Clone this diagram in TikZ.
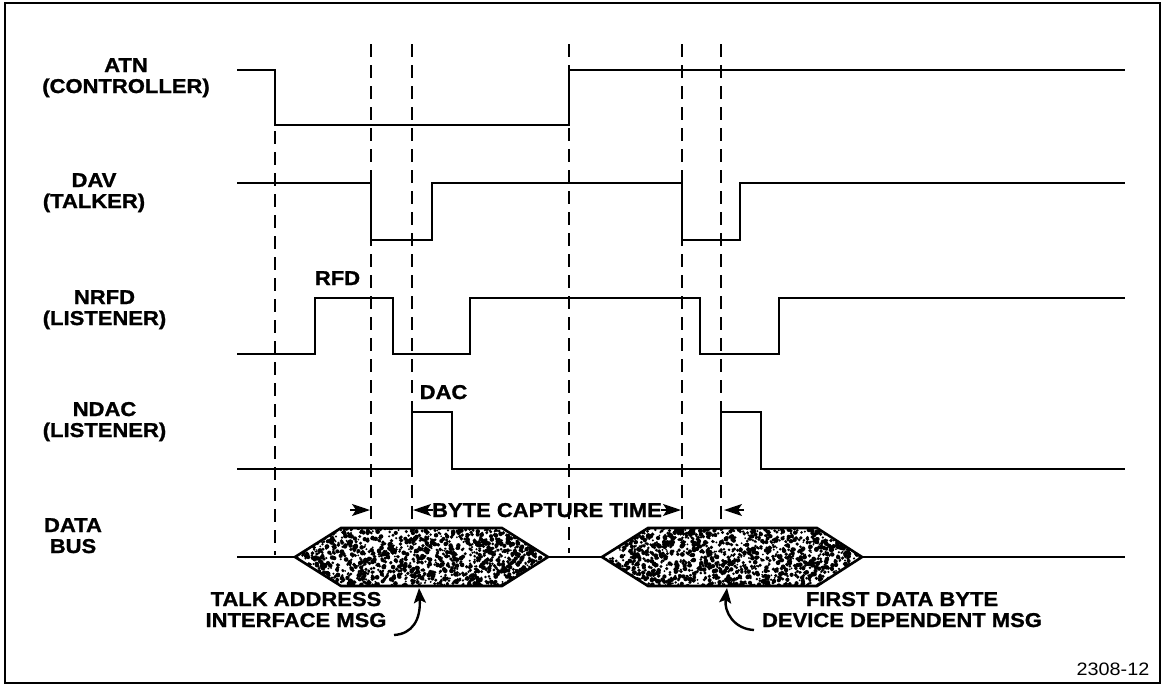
\documentclass[tikz,border=0pt]{standalone}
\usepackage{fontspec}
\setmainfont{Liberation Sans}[FakeStretch=1.1, BoldFeatures={FakeBold=1.2}]
\usetikzlibrary{arrows.meta}
\begin{document}
\begin{tikzpicture}[x=1pt,y=-1pt,
  sig/.style={line width=2.2pt, line join=miter},
  guide/.style={line width=1.9pt, dash pattern=on 13pt off 8pt},
  lbl/.style={font=\fontsize{20}{21}\selectfont\bfseries, inner sep=0pt, anchor=base, align=center},
  dimarrow/.style={line width=1.5pt, -{Stealth[length=18pt,width=12pt,inset=4pt]}},
  callout/.style={line width=2.4pt, -{Stealth[length=15pt,width=12pt,inset=3pt]}},
  busedge/.style={line width=2.6pt, line join=miter},
  frame/.style={line width=2.8pt}]
\useasboundingbox (0,0) rectangle (1165,686);
\pgfmathsetseed{4711}
% frame
\draw[frame] (5,3) rectangle (1160,683);

% guide (dashed) lines
\draw[guide] (275,131) -- (275,555);
\draw[guide] (371,44) -- (371,528);
\draw[guide] (412,44) -- (412,528);
\draw[guide] (569,44) -- (569,553);
\draw[guide] (682,44) -- (682,528);
\draw[guide] (721,44) -- (721,528);

% signals
\draw[sig] (237,70) -- (275,70) -- (275,125) -- (569,125) -- (569,70) -- (1125,70);
\draw[sig] (237,183) -- (371,183) -- (371,240) -- (432,240) -- (432,183) -- (682,183) -- (682,240) -- (740,240) -- (740,183) -- (1125,183);
\draw[sig] (237,354) -- (315,354) -- (315,298) -- (393,298) -- (393,354) -- (470,354) -- (470,298) -- (700,298) -- (700,354) -- (779,354) -- (779,298) -- (1125,298);
\draw[sig] (237,469) -- (412,469) -- (412,412) -- (452,412) -- (452,469) -- (721,469) -- (721,412) -- (761,412) -- (761,469) -- (1125,469);

% data bus
\draw[sig] (237,557) -- (295,557);
\draw[sig] (548,557) -- (602,557);
\draw[sig] (862,557) -- (1125,557);
\foreach \a/\b/\c/\d in {295/341/502/548, 602/648/817/862} {
  \begin{scope}
    \clip (\a,557) -- (\b,528) -- (\c,528) -- (\d,557) -- (\c,586) -- (\b,586) -- cycle;
    \fill[white] (\a,528) rectangle (\d,586);
    \foreach \i in {1,...,1500} {
      \pgfmathsetmacro\px{\a+(\d-\a)*rnd}
      \pgfmathsetmacro\py{528+58*rnd}
      \pgfmathsetmacro\pr{0.9+1.5*rnd}
      \fill (\px,\py) circle[radius=\pr pt];
    }
  \end{scope}
  \draw[busedge] (\a,557) -- (\b,528) -- (\c,528) -- (\d,557) -- (\c,586) -- (\b,586) -- cycle;
}

% signal labels
\node[lbl] (atn)  at (126,93)  {ATN\\(CONTROLLER)};
\node[lbl] (dav)  at (94,208)  {DAV\\(TALKER)};
\node[lbl] (nrfd) at (104.5,325) {NRFD\\(LISTENER)};
\node[lbl] (ndac) at (104.5,437) {NDAC\\(LISTENER)};
\node[lbl] (dbus) at (73,553)  {DATA\\BUS};
\node[lbl] (rfd)  at (337.5,285) {RFD};
\node[lbl] (dac)  at (443.5,399) {DAC};

% byte capture time
\node[lbl] (bct) at (547,517) {BYTE CAPTURE TIME};
\coordinate (a1s) at (350,510); \coordinate (a1e) at (370,510);
\coordinate (a2s) at (433,510); \coordinate (a2e) at (413,510);
\coordinate (a3s) at (661,510); \coordinate (a3e) at (681,510);
\coordinate (a4s) at (744,510); \coordinate (a4e) at (724,510);
\draw[dimarrow] (a1s) -- (a1e);
\draw[dimarrow] (a2s) -- (a2e);
\draw[dimarrow] (a3s) -- (a3e);
\draw[dimarrow] (a4s) -- (a4e);

% bottom callouts
\node[lbl] (talk)  at (296,627) {TALK ADDRESS\\INTERFACE MSG};
\node[lbl] (first) at (902,627) {FIRST DATA BYTE\\DEVICE DEPENDENT MSG};
\coordinate (t1) at (394,635); \coordinate (h1) at (419,588);
\coordinate (t2) at (754,630); \coordinate (h2) at (727,588);
\draw[callout] (t1) .. controls (412,634) and (421,620) .. (h1);
\draw[callout] (t2) .. controls (734,629) and (724,612) .. (h2);

% figure number
\node[font=\fontsize{18}{20}\selectfont, inner sep=0pt, anchor=base] (fig) at (1113,675) {2308-12};
\end{tikzpicture}
\end{document}
